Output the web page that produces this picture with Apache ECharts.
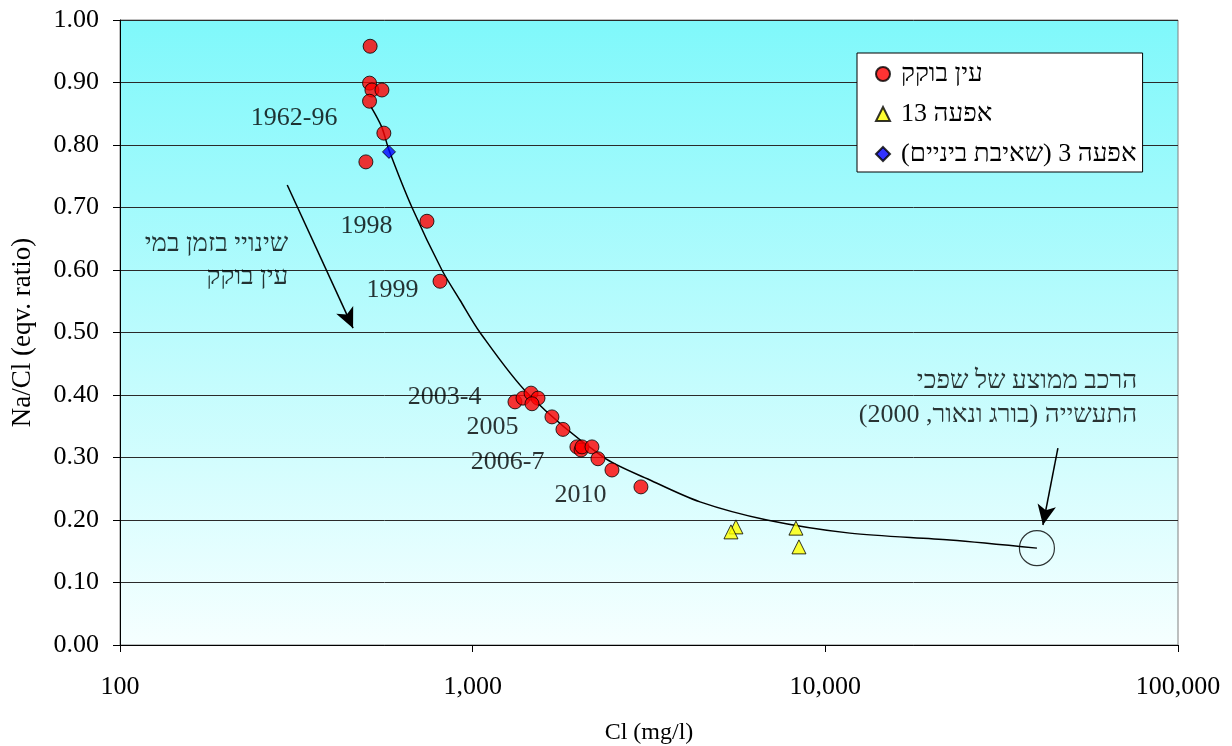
<!DOCTYPE html>
<html>
<head>
<meta charset="utf-8">
<script src="https://cdn.jsdelivr.net/npm/echarts@6/dist/echarts.min.js"></script>
<style>
  html, body { margin: 0; padding: 0; background: #ffffff; }
  #chart { width: 1232px; height: 746px; }
</style>
</head>
<body>
<div id="chart"></div>
<script>
// ---- Data ----
const seriesNames = ['עין בוקק', 'אפעה 13', 'אפעה 3 (שאיבת ביניים)'];

const ainBokekCl = [512, 510, 518, 553, 510, 560, 498, 742, 808, 1318, 1389, 1464, 1532, 1473, 1678, 1803, 1975, 2029, 2042, 2179, 2266, 2483, 3000];
const ainBokekRatio = [0.958, 0.899, 0.888, 0.888, 0.870, 0.819, 0.773, 0.678, 0.582, 0.389, 0.395, 0.403, 0.395, 0.386, 0.365, 0.345, 0.317, 0.312, 0.317, 0.317, 0.298, 0.280, 0.253];

const afa13Cl = [5578, 5400, 8253, 8418];
const afa13Ratio = [0.189, 0.181, 0.187, 0.157];

const afa3Cl = [579];
const afa3Ratio = [0.789];

// mixing curve
const curveCl = [515, 552, 579, 673, 818, 920, 1049, 1435, 2341, 3183, 4411, 6830, 11740, 22560, 39810];
const curveRatio = [0.861, 0.829, 0.792, 0.700, 0.600, 0.552, 0.500, 0.402, 0.301, 0.264, 0.229, 0.200, 0.179, 0.168, 0.155];

// average industrial wastewater composition
const wasteCl = [39810];
const wasteRatio = [0.155];

// year annotations
const yearText = ['1962-96', '1998', '1999', '2003-4', '2005', '2006-7', '2010'];
const yearCl = [415, 594, 704, 1063, 1353, 1603, 2403];
const yearRatio = [0.843, 0.670, 0.568, 0.397, 0.349, 0.293, 0.240];

// Hebrew notes
const noteText = ['שינויי בזמן במי', 'עין בוקק', 'הרכב ממוצע של שפכי', 'התעשייה (בורג ונאור, 2000)'];
const noteCl = [301, 301, 76900, 76900];
const noteRatio = [0.642, 0.589, 0.422, 0.368];

// arrows
const arrowFromCl = [298, 45650];
const arrowFromRatio = [0.736, 0.315];
const arrowToCl = [458, 41400];
const arrowToRatio = [0.507, 0.192];

const yTicks = { min: 0, max: 1, interval: 0.1 };
const xTicks = { min: 100, max: 100000 };

// ---- Chart ----
const FONT = "'Liberation Serif', 'Times New Roman', 'DejaVu Serif', serif";
const zip = (a, b) => a.map((v, i) => [v, b[i]]);

const chart = echarts.init(document.getElementById('chart'), null, { renderer: 'canvas' });

const option = {
  backgroundColor: '#ffffff',
  animation: false,
  textStyle: { fontFamily: FONT, color: '#000' },
  grid: {
    left: 120, right: 54, top: 20, bottom: 101,
    outerBoundsMode: 'none',
    containLabel: false,
    show: true,
    borderColor: '#808080',
    borderWidth: 1,
    backgroundColor: {
      type: 'linear', x: 0, y: 0, x2: 0, y2: 1,
      colorStops: [
        { offset: 0, color: '#7ff8fb' },
        { offset: 1, color: '#f6ffff' }
      ]
    }
  },
  legend: {
    data: seriesNames,
    orient: 'vertical',
    left: 857,
    top: 53,
    padding: [8, 6, 5, 18],
    itemGap: 14,
    itemWidth: 14,
    itemHeight: 14,
    backgroundColor: '#ffffff',
    borderColor: '#000',
    borderWidth: 1,
    borderRadius: 0,
    textStyle: { fontFamily: FONT, fontSize: 26, color: '#000', padding: [0, 0, 0, 6] }
  },
  xAxis: {
    type: 'log',
    logBase: 10,
    min: xTicks.min,
    max: xTicks.max,
    name: 'Cl (mg/l)',
    nameLocation: 'middle',
    nameGap: 76,
    nameTextStyle: { fontFamily: FONT, fontSize: 24, color: '#000' },
    axisLine: { show: true, onZero: false, lineStyle: { color: '#000', width: 1 } },
    axisTick: { show: true, inside: false, length: 7, lineStyle: { color: '#000' } },
    minorTick: { show: false },
    splitLine: { show: false },
    axisLabel: {
      margin: 29,
      fontFamily: FONT, fontSize: 26, color: '#000',
      formatter: v => Math.round(v).toLocaleString('en-US')
    }
  },
  yAxis: {
    type: 'value',
    min: yTicks.min,
    max: yTicks.max,
    interval: yTicks.interval,
    name: 'Na/Cl (eqv. ratio)',
    nameLocation: 'middle',
    nameGap: 84,
    nameTextStyle: { fontFamily: FONT, fontSize: 27, color: '#000' },
    axisLine: { show: true, onZero: false, lineStyle: { color: '#000', width: 1 } },
    axisTick: { show: true, inside: false, length: 7, lineStyle: { color: '#000' } },
    splitLine: { show: true, lineStyle: { color: '#2a2a2a', width: 1 } },
    axisLabel: {
      margin: 21,
      fontFamily: FONT, fontSize: 26, color: '#000',
      formatter: v => v.toFixed(2)
    }
  },
  series: [
    {
      name: 'curve',
      type: 'line',
      data: zip(curveCl, curveRatio),
      smooth: 0.3,
      showSymbol: false,
      symbol: 'none',
      silent: true,
      z: 1,
      lineStyle: { color: '#000', width: 1.5 }
    },
    {
      name: 'waste',
      type: 'scatter',
      data: zip(wasteCl, wasteRatio),
      symbol: 'circle',
      symbolSize: 35,
      silent: true,
      z: 1,
      itemStyle: { color: 'rgba(0,0,0,0)', borderColor: '#000', borderWidth: 1.2 }
    },
    {
      name: 'arrows',
      type: 'line',
      data: [],
      silent: true,
      markLine: {
        silent: true,
        symbol: ['none', 'arrow'],
        symbolSize: [14, 20],
        label: { show: false },
        lineStyle: { color: '#000', width: 1.5, type: 'solid' },
        data: arrowFromCl.map((c, i) => [
          { coord: [c, arrowFromRatio[i]] },
          { coord: [arrowToCl[i], arrowToRatio[i]] }
        ])
      }
    },
    {
      name: seriesNames[0],
      type: 'scatter',
      data: zip(ainBokekCl, ainBokekRatio),
      symbol: 'circle',
      symbolSize: 14,
      z: 3,
      itemStyle: { color: '#ff0000', borderColor: '#000', borderWidth: 1 }
    },
    {
      name: seriesNames[1],
      type: 'scatter',
      data: zip(afa13Cl, afa13Ratio),
      symbol: 'triangle',
      symbolSize: 14,
      z: 3,
      itemStyle: { color: '#ffff00', borderColor: '#000', borderWidth: 1 }
    },
    {
      name: seriesNames[2],
      type: 'scatter',
      data: zip(afa3Cl, afa3Ratio),
      symbol: 'diamond',
      symbolSize: 13,
      z: 3,
      itemStyle: { color: '#0000ff', borderColor: '#000', borderWidth: 1 }
    },
    {
      name: 'yearLabels',
      type: 'scatter',
      silent: true,
      symbolSize: 1,
      itemStyle: { color: 'rgba(0,0,0,0)' },
      data: yearText.map((t, i) => ({ name: t, value: [yearCl[i], yearRatio[i]] })),
      label: {
        show: true, position: 'left', distance: 0,
        formatter: p => p.name,
        fontFamily: FONT, fontSize: 26, color: '#000'
      }
    },
    {
      name: 'noteLabels',
      type: 'scatter',
      silent: true,
      symbolSize: 1,
      itemStyle: { color: 'rgba(0,0,0,0)' },
      data: noteText.map((t, i) => ({ name: t, value: [noteCl[i], noteRatio[i]] })),
      label: {
        show: true, position: 'left', distance: 0,
        formatter: p => p.name,
        fontFamily: FONT, fontSize: 26, color: '#000'
      }
    }
  ]
};

chart.setOption(option);
</script>
</body>
</html>
